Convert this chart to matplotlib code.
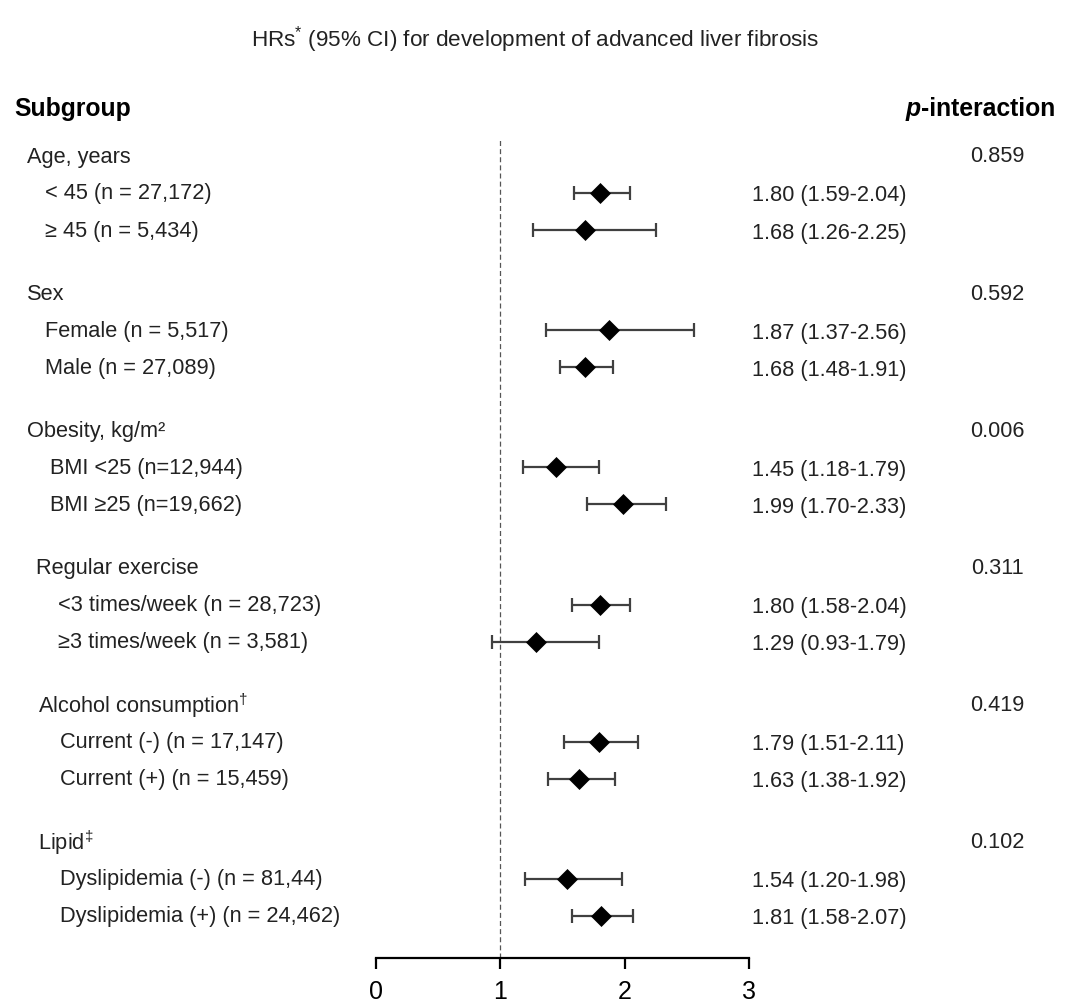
import matplotlib
matplotlib.use('Agg')
import matplotlib.pyplot as plt
from matplotlib.transforms import blended_transform_factory

plt.rcParams['font.family'] = ['Liberation Sans', 'DejaVu Sans']
plt.rcParams['mathtext.fontset'] = 'custom'
plt.rcParams['mathtext.rm'] = 'Liberation Sans'
plt.rcParams['mathtext.it'] = 'Liberation Sans:italic'
plt.rcParams['mathtext.bf'] = 'Liberation Sans:bold'

# ---------------- data ----------------
groups = ['Age, years', 'Sex', 'Obesity, kg/m\u00b2', 'Regular exercise',
          'Alcohol consumption$^{\u2020}$', 'Lipid$^{\u2021}$']
subgroups = [
    ['< 45 (n = 27,172)', '\u2265 45 (n = 5,434)'],
    ['Female (n = 5,517)', 'Male (n = 27,089)'],
    ['BMI <25 (n=12,944)', 'BMI \u226525 (n=19,662)'],
    ['<3 times/week (n = 28,723)', '\u22653 times/week (n = 3,581)'],
    ['Current (-) (n = 17,147)', 'Current (+) (n = 15,459)'],
    ['Dyslipidemia (-) (n = 81,44)', 'Dyslipidemia (+) (n = 24,462)'],
]
hr = [[1.80, 1.68], [1.87, 1.68], [1.45, 1.99], [1.80, 1.29], [1.79, 1.63], [1.54, 1.81]]
ci_low = [[1.59, 1.26], [1.37, 1.48], [1.18, 1.70], [1.58, 0.93], [1.51, 1.38], [1.20, 1.58]]
ci_high = [[2.04, 2.25], [2.56, 1.91], [1.79, 2.33], [2.04, 1.79], [2.11, 1.92], [1.98, 2.07]]
p_interaction = ['0.859', '0.592', '0.006', '0.311', '0.419', '0.102']
x_ticks = [0, 1, 2, 3]

# ---------------- layout (pixels) ----------------
W, H = 1071, 1004
fig = plt.figure(figsize=(W / 100, H / 100), dpi=100)

ax_left_px, ax_right_px = 376, 749
ax_top_px, ax_bot_px = 140, 959
ax = fig.add_axes([ax_left_px / W, 1 - ax_bot_px / H,
                   (ax_right_px - ax_left_px) / W, (ax_bot_px - ax_top_px) / H])
ax.set_xlim(0, 3)
ax.set_ylim(ax_bot_px, ax_top_px)  # y in pixel-from-top units

ROW_TOP, GROUP_STEP, ITEM_STEP = 157, 137.2, 37.0
header_x = [27, 27, 27, 36, 38, 38]
item_x = [45, 45, 50, 58, 60, 60]

txt_color = '#222222'
fs = 15.7
trans_fx = blended_transform_factory(fig.transFigure, ax.transData)

for g, name in enumerate(groups):
    gy = ROW_TOP + GROUP_STEP * g
    ax.text(header_x[g] / W, gy, name, transform=trans_fx, ha='left', va='center',
            fontsize=fs, color=txt_color, clip_on=False)
    ax.text(997 / W, gy, p_interaction[g], transform=trans_fx, ha='center', va='center',
            fontsize=fs, color=txt_color, clip_on=False)
    for k, lab in enumerate(subgroups[g]):
        y = gy + ITEM_STEP * (k + 1)
        ax.text(item_x[g] / W, y, lab, transform=trans_fx, ha='left', va='center',
                fontsize=fs, color=txt_color, clip_on=False)
        h, lo, hi = hr[g][k], ci_low[g][k], ci_high[g][k]
        ax.errorbar([h], [y], xerr=[[h - lo], [hi - h]], fmt='none', ecolor='#404040',
                    elinewidth=1.6, capsize=4.7, capthick=1.6, zorder=2)
        ax.plot([h], [y], marker='D', markersize=10, color='black',
                markeredgewidth=0.5, zorder=3)
        ax.text(752 / W, y + 2, f'{h:.2f} ({lo:.2f}-{hi:.2f})', transform=trans_fx,
                ha='left', va='center', fontsize=fs, color=txt_color, clip_on=False)

# reference line
ax.axvline(1, color='#555555', lw=0.9, ls=(0, (4, 2.5)), zorder=1)

# headers
ax.text(14 / W, 109, 'Subgroup', transform=trans_fx, ha='left', va='center',
        fontsize=17.8, fontweight='bold', color='black', clip_on=False)
t = ax.text(1055 / W, 109, '-interaction', transform=trans_fx, ha='right', va='center',
            fontsize=17.8, fontweight='bold', color='black', clip_on=False)
ax.annotate('p', xy=(0, 0), xycoords=t, ha='right', va='bottom',
            fontsize=17.8, fontweight='bold', fontstyle='italic', color='black')

fig.text(0.5, 1 - 40 / H, 'HRs$^{*}$ (95% CI) for development of advanced liver fibrosis',
         ha='center', va='center', fontsize=16.2, color=txt_color)

# axes styling
for s in ['top', 'right', 'left']:
    ax.spines[s].set_visible(False)
ax.spines['bottom'].set_linewidth(1.6)
ax.spines['bottom'].set_color('black')
ax.set_yticks([])
ax.set_xticks(x_ticks)
ax.set_xticklabels([str(v) for v in x_ticks])
ax.tick_params(axis='x', direction='out', length=8, width=1.6, pad=7,
               labelsize=18, colors='black')
ax.patch.set_alpha(0)

fig.savefig('out.png', dpi=100)
